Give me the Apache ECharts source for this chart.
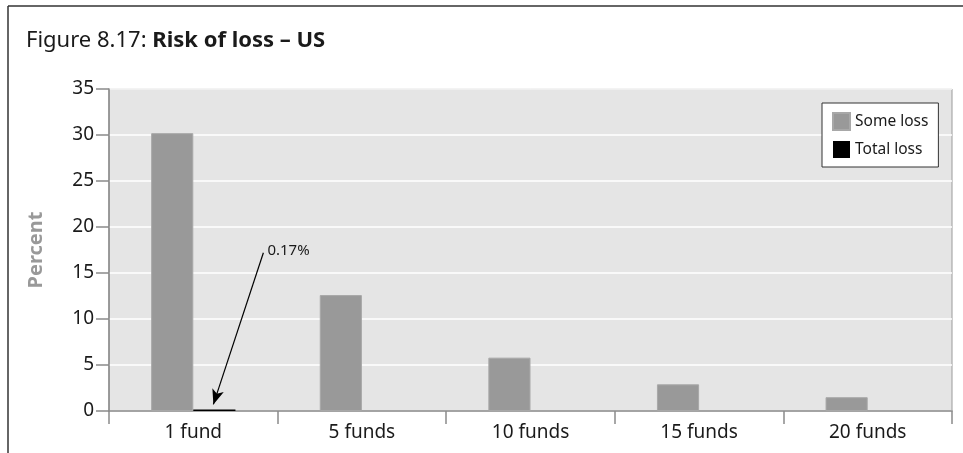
<!DOCTYPE html>
<html>
<head>
<meta charset="utf-8">
<script src="https://cdn.jsdelivr.net/npm/echarts@6/dist/echarts.min.js"></script>
<style>
html,body{margin:0;padding:0;background:#fff;}
#chart{width:963px;height:453px;}
</style>
</head>
<body>
<div id="chart"></div>
<script>
var categories = ['1 fund', '5 funds', '10 funds', '15 funds', '20 funds'];
var someLoss = [30.2, 12.6, 5.8, 2.9, 1.5];
var totalLoss = [0.17, 0, 0, 0, 0];
var yTicks = [0, 5, 10, 15, 20, 25, 30, 35];
var annotationText = '0.17%';

var FONT = 'Noto Sans';
var chart = echarts.init(document.getElementById('chart'), null, {renderer: 'canvas'});

var option = {
  animation: false,
  backgroundColor: '#ffffff',
  textStyle: {fontFamily: FONT},
  title: {
    left: 21, top: 25,
    text: '{n|Figure 8.17: }{b|Risk of loss – US}',
    textStyle: {
      fontWeight: 'normal',
      rich: {
        n: {fontFamily: FONT, fontSize: 22, fontWeight: 'normal', color: '#1a1a1a'},
        b: {fontFamily: FONT, fontSize: 22, fontWeight: 'bold', color: '#1a1a1a'}
      }
    }
  },
  legend: {
    orient: 'vertical',
    left: 822, top: 103,
    backgroundColor: '#ffffff',
    borderColor: '#333333', borderWidth: 1,
    padding: [9, 10, 9, 10],
    itemWidth: 17, itemHeight: 17, itemGap: 10,
    icon: 'rect',
    textStyle: {fontFamily: FONT, fontSize: 15.5, color: '#1a1a1a'},
    data: ['Some loss', 'Total loss']
  },
  grid: {
    left: 109, top: 89, right: 11, bottom: 42,
    show: true, backgroundColor: '#e5e5e5', borderColor: '#9a9a9a', borderWidth: 1,
    containLabel: false
  },
  xAxis: {
    type: 'category',
    data: categories,
    boundaryGap: true,
    axisLine: {show: true, lineStyle: {color: '#8a8a8a', width: 1.5}},
    axisTick: {show: true, length: 13, interval: 0, lineStyle: {color: '#8a8a8a', width: 1.5}},
    axisLabel: {fontFamily: FONT, fontSize: 19, color: '#1a1a1a', margin: 12, interval: 0},
    splitLine: {show: false}
  },
  yAxis: {
    type: 'value',
    min: yTicks[0], max: yTicks[yTicks.length - 1], interval: 5,
    name: 'Percent',
    nameLocation: 'middle', nameRotate: 90, nameGap: 63,
    nameTextStyle: {fontFamily: FONT, fontSize: 20, fontWeight: 'bold', color: '#999999'},
    axisLine: {show: true, lineStyle: {color: '#8a8a8a', width: 1.5}},
    axisTick: {show: true, inside: false, length: 13, lineStyle: {color: '#8a8a8a', width: 1.5}},
    axisLabel: {fontFamily: FONT, fontSize: 19, color: '#1a1a1a', margin: 15},
    splitLine: {show: true, lineStyle: {color: '#ffffff', width: 1.5}}
  },
  series: [
    {
      name: 'Some loss', type: 'bar', data: someLoss,
      barGap: '0%', barCategoryGap: '50%',
      itemStyle: {color: '#999999', borderColor: '#a8a8a8', borderWidth: 1}
    },
    {
      name: 'Total loss', type: 'bar', data: totalLoss,
      itemStyle: {color: '#000000'}
    }
  ],
  graphic: [
    {type: 'line', shape: {x1: 8, y1: 6, x2: 963, y2: 6}, style: {stroke: '#333', lineWidth: 1.5}, silent: true},
    {type: 'line', shape: {x1: 8, y1: 6, x2: 8, y2: 453}, style: {stroke: '#333', lineWidth: 1.5}, silent: true}
  ]
};
chart.setOption(option);

// Annotation arrow anchored to the Total loss bar for "1 fund"
var layout = null;
try {
  layout = chart.getModel().getSeriesByIndex(1).getData().getItemLayout(0);
} catch (e) {}
var tip;
if (layout && isFinite(layout.x)) {
  tip = [layout.x + layout.width / 2 - 1, layout.y + layout.height - 5];
} else {
  var p = chart.convertToPixel({seriesIndex: 1}, [0, totalLoss[0]]);
  tip = [p[0] + 20, p[1] - 4];
}
var start = chart.convertToPixel({gridIndex: 0}, [0, 17.2]);
start = [tip[0] + 50, start[1]];

chart.setOption({
  series: [{}, {
    markLine: {
      silent: true,
      symbol: ['none', 'arrow'],
      symbolSize: [9, 15],
      label: {show: false},
      lineStyle: {color: '#000', width: 1.2, type: 'solid'},
      data: [[{x: start[0], y: start[1]}, {x: tip[0], y: tip[1]}]]
    }
  }],
  graphic: option.graphic.concat([{
    type: 'text', silent: true,
    x: start[0] + 4, y: start[1] - 2,
    style: {text: annotationText, font: '15px "' + FONT + '"', fill: '#1a1a1a', verticalAlign: 'middle'}
  }])
});
</script>
</body>
</html>
